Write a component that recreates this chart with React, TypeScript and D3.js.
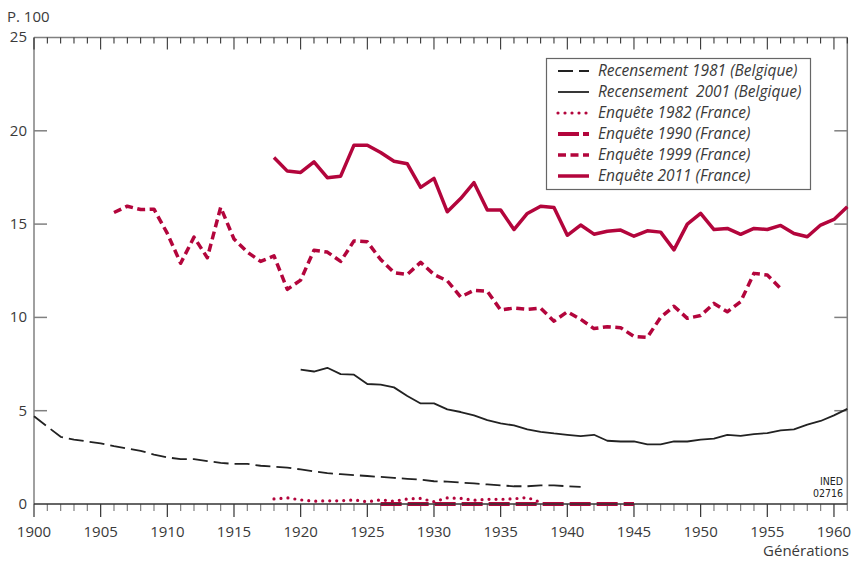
import React from "react";
import * as d3 from "d3";

const W = 851;
const H = 561;

const yearsR1981 = d3.range(1900, 1942);
const valsR1981 = [4.7, 4.15, 3.6, 3.45, 3.35, 3.25, 3.1, 2.97, 2.85, 2.65, 2.5, 2.4, 2.4, 2.3, 2.2, 2.15, 2.15, 2.05, 2.0, 1.95, 1.85, 1.75, 1.65, 1.6, 1.55, 1.5, 1.45, 1.4, 1.35, 1.3, 1.22, 1.2, 1.15, 1.1, 1.05, 1.0, 0.95, 0.95, 1.0, 1.0, 0.95, 0.92];

const yearsR2001 = d3.range(1920, 1962);
const valsR2001 = [7.2, 7.1, 7.3, 6.96, 6.93, 6.43, 6.4, 6.25, 5.79, 5.39, 5.39, 5.07, 4.93, 4.75, 4.5, 4.32, 4.21, 4.0, 3.87, 3.78, 3.71, 3.64, 3.71, 3.39, 3.35, 3.35, 3.2, 3.2, 3.35, 3.35, 3.45, 3.5, 3.7, 3.65, 3.75, 3.8, 3.95, 4.0, 4.25, 4.45, 4.75, 5.1];

const yearsE1982 = d3.range(1918, 1939);
const valsE1982 = [0.27, 0.33, 0.22, 0.15, 0.17, 0.17, 0.22, 0.12, 0.22, 0.15, 0.27, 0.3, 0.12, 0.33, 0.3, 0.2, 0.25, 0.25, 0.28, 0.35, 0.08];

const yearsE1990 = d3.range(1926, 1946);
const valsE1990 = [0, 0, 0, 0, 0, 0, 0, 0, 0, 0, 0, 0, 0, 0, 0, 0, 0, 0, 0, 0];

const yearsE1999 = d3.range(1906, 1957);
const valsE1999 = [15.62, 15.96, 15.78, 15.8, 14.5, 12.9, 14.3, 13.2, 15.9, 14.2, 13.5, 13.0, 13.3, 11.5, 12.0, 13.6, 13.5, 13.0, 14.1, 14.05, 13.1, 12.4, 12.3, 12.95, 12.3, 11.96, 11.1, 11.45, 11.4, 10.4, 10.5, 10.43, 10.5, 9.8, 10.3, 9.9, 9.4, 9.5, 9.45, 8.98, 8.93, 10.0, 10.6, 9.95, 10.1, 10.75, 10.3, 10.84, 12.36, 12.27, 11.55];

const yearsE2011 = d3.range(1918, 1962);
const valsE2011 = [18.57, 17.84, 17.77, 18.34, 17.49, 17.57, 19.23, 19.23, 18.84, 18.37, 18.23, 16.97, 17.45, 15.66, 16.37, 17.22, 15.75, 15.75, 14.71, 15.57, 15.96, 15.89, 14.4, 14.95, 14.46, 14.62, 14.68, 14.35, 14.64, 14.57, 13.62, 15.0, 15.57, 14.71, 14.77, 14.45, 14.77, 14.71, 14.93, 14.5, 14.32, 14.95, 15.25, 15.93];

const yTicks = [0, 5, 10, 15, 20, 25];
const xMajor = [1900, 1905, 1910, 1915, 1920, 1925, 1930, 1935, 1940, 1945, 1950, 1955, 1960];

const legendLabels = [
  "Recensement 1981 (Belgique)",
  "Recensement  2001 (Belgique)",
  "Enquête 1982 (France)",
  "Enquête 1990 (France)",
  "Enquête 1999 (France)",
  "Enquête 2011 (France)",
];

const RED = "#b3053c";
const BLACK = "#222";

type Style = { stroke: string; width: number; dash?: string; cap?: "round" | "butt" };
const styles: Style[] = [
  { stroke: BLACK, width: 1.8, dash: "15,6" },
  { stroke: BLACK, width: 1.8 },
  { stroke: RED, width: 3.2, dash: "0,7", cap: "round" },
  { stroke: RED, width: 4, dash: "21,6" },
  { stroke: RED, width: 3.5, dash: "8,4.5" },
  { stroke: RED, width: 3.5 },
];

export default function App() {
  const x = d3.scaleLinear().domain([1900, 1961]).range([34, 847.3]);
  const y = d3.scaleLinear().domain([0, 25]).range([504, 37.5]);
  const line = d3
    .line<[number, number]>()
    .x((d) => x(d[0]))
    .y((d) => y(d[1]));

  const series: [number[], number[]][] = [
    [yearsR1981, valsR1981],
    [yearsR2001, valsR2001],
    [yearsE1982, valsE1982],
    [yearsE1990, valsE1990],
    [yearsE1999, valsE1999],
    [yearsE2011, valsE2011],
  ];

  const allYears = d3.range(1900, 1962);
  const font = "'Open Sans', 'Noto Sans', sans-serif";
  const axisGray = "#808080";
  const textCol = "#3a3a3a";
  const condFont = "'DejaVu Sans Condensed', 'DejaVu Sans', sans-serif";

  return (
    <svg width={W} height={H} style={{ position: "absolute", left: 0, top: 0, background: "#fff" }} fontFamily={font}>
      {/* frame */}
      <line x1={x(1900)} x2={x(1961)} y1={y(25)} y2={y(25)} stroke={axisGray} strokeWidth={1.5} />
      <line x1={x(1900)} x2={x(1900)} y1={y(25)} y2={y(0)} stroke={axisGray} strokeWidth={1.5} />
      <line x1={x(1961)} x2={x(1961)} y1={y(25)} y2={y(0)} stroke={axisGray} strokeWidth={1.5} />
      {/* top ticks */}
      {allYears.map((yr) => (
        <line key={"tt" + yr} x1={x(yr)} x2={x(yr)} y1={y(25)} y2={y(25) + (yr % 5 === 0 ? 12 : 6)} stroke={BLACK} strokeWidth={1} />
      ))}
      {/* bottom ticks */}
      {allYears.map((yr) => (
        <line key={"bt" + yr} x1={x(yr)} x2={x(yr)} y1={y(0)} y2={y(0) + (yr % 5 === 0 ? 13 : 7)} stroke={yr % 5 === 0 ? "#333" : axisGray} strokeWidth={1.2} />
      ))}
      {/* y ticks left and right */}
      {yTicks.slice(1, 5).map((v) => (
        <g key={"yt" + v}>
          <line x1={x(1900)} x2={x(1900) + 13} y1={y(v)} y2={y(v)} stroke={axisGray} strokeWidth={1.5} />
          <line x1={x(1961)} x2={x(1961) - 13} y1={y(v)} y2={y(v)} stroke={axisGray} strokeWidth={1.5} />
        </g>
      ))}
      {/* y labels */}
      {yTicks.map((v) => (
        <text key={"yl" + v} x={27} y={y(v)} dy="0.33em" textAnchor="end" fontSize={15} fill={textCol}>
          {v}
        </text>
      ))}
      {/* x labels */}
      {xMajor.map((yr) => (
        <text key={"xl" + yr} x={x(yr)} y={537} textAnchor="middle" fontSize={15} fill={textCol}>
          {yr}
        </text>
      ))}
      <text x={7} y={22} fontSize={15} fill={textCol}>P. 100</text>
      <text x={849} y={556} textAnchor="end" fontSize={15} fill={textCol}>Générations</text>
      <text x={843} y={485} textAnchor="end" fontSize={10.5} fontFamily={condFont} fill="#222" style={{ fontStretch: "condensed" }}>INED</text>
      <text x={843} y={497} textAnchor="end" fontSize={10.5} fontFamily={condFont} fill="#222" style={{ fontStretch: "condensed" }}>02716</text>

      {/* series */}
      {series.map(([ys, vs], i) => {
        const pts: [number, number][] = ys.map((yr, k) => [yr, vs[k]]);
        const s = styles[i];
        return (
          <path
            key={"s" + i}
            d={line(pts) || ""}
            fill="none"
            stroke={s.stroke}
            strokeWidth={s.width}
            strokeDasharray={s.dash}
            strokeLinecap={s.cap || "butt"}
            strokeLinejoin="round"
          />
        );
      })}
      {/* bottom axis line (dark) */}
      <line x1={x(1900)} x2={x(1961)} y1={y(0)} y2={y(0)} stroke="#333" strokeWidth={1.3} />

      {/* legend */}
      <rect x={546.5} y={58.5} width={264} height={131} fill="#fff" stroke="#666" strokeWidth={1.2} />
      {legendLabels.map((lab, i) => {
        const s = styles[i];
        const ly = 71 + i * 21;
        return (
          <g key={"lg" + i}>
            <line x1={558} x2={589} y1={ly} y2={ly} stroke={s.stroke} strokeWidth={s.width} strokeDasharray={s.dash ? (i === 3 ? "21,4" : s.dash) : undefined} strokeLinecap={s.cap || "butt"} />
            <text x={598} y={ly} dy="0.35em" fontSize={15.5} fontStyle="italic" fill={textCol} style={{ whiteSpace: "pre" }}>
              {lab}
            </text>
          </g>
        );
      })}
    </svg>
  );
}
